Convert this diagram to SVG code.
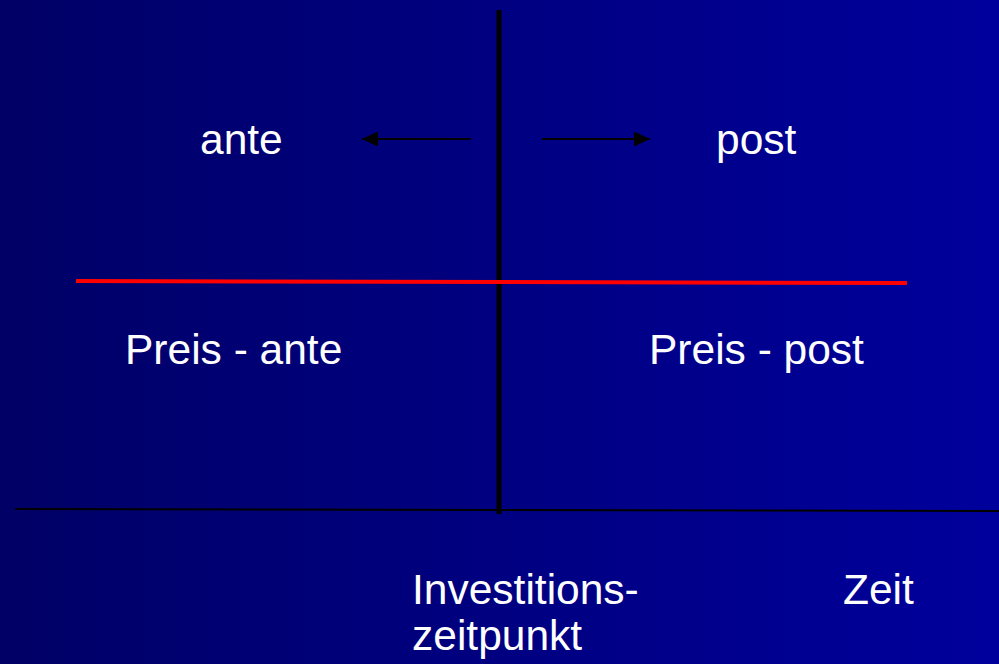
<svg xmlns="http://www.w3.org/2000/svg" width="999" height="664" viewBox="0 0 999 664">
<defs>
<linearGradient id="bg" x1="0" y1="0" x2="1" y2="0">
<stop offset="0" stop-color="#000066"/>
<stop offset="1" stop-color="#00009C"/>
</linearGradient>
<marker id="ah" markerUnits="userSpaceOnUse" markerWidth="16" markerHeight="15" refX="16" refY="7.5" orient="auto">
<path d="M0,0 L16,7.5 L0,15 Z" fill="#000"/>
</marker>
<style>
.t{font-family:"Liberation Sans",Arial,sans-serif;font-size:42.5px;fill:#fff}
.ln{stroke:#000;fill:none}
</style>
</defs>
<rect width="999" height="664" fill="url(#bg)"/>
<g id="connectors">
<line class="ln" x1="499" y1="10" x2="499" y2="514" stroke-width="5"/>
<line x1="76" y1="281" x2="907" y2="283" stroke="#FF0000" stroke-width="4"/>
<line class="ln" x1="15" y1="509" x2="999" y2="511" stroke-width="2"/>
<line class="ln" x1="471" y1="139" x2="362" y2="139" stroke-width="2" marker-end="url(#ah)"/>
<line class="ln" x1="542" y1="139" x2="650" y2="139" stroke-width="2" marker-end="url(#ah)"/>
</g>
<g id="ante"><text class="t" x="200" y="154">ante</text></g>
<g id="post"><text class="t" x="716" y="154">post</text></g>
<g id="preis-ante"><text class="t" x="125" y="364">Preis - ante</text></g>
<g id="preis-post"><text class="t" x="649" y="364">Preis - post</text></g>
<g id="investitionszeitpunkt"><text class="t" x="412" y="604">Investitions-</text><text class="t" x="412" y="650">zeitpunkt</text></g>
<g id="zeit"><text class="t" x="843" y="604">Zeit</text></g>
</svg>
